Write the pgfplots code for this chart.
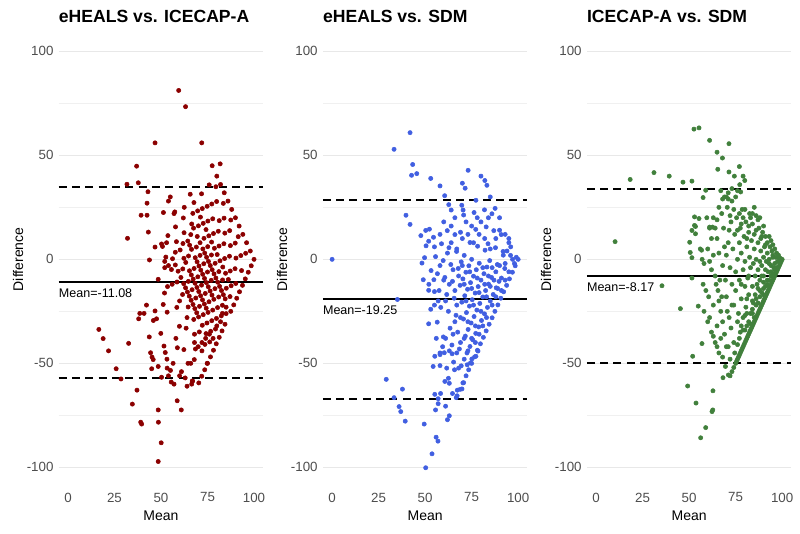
\documentclass[border=0pt]{standalone}
\usepackage{fontspec}
\setmainfont{Liberation Sans}
\usepackage{pgfplots}
\pgfplotsset{compat=1.18}
\definecolor{c1}{RGB}{139,0,0}
\definecolor{c2}{RGB}{65,95,225}
\definecolor{c3}{RGB}{65,128,60}
\definecolor{tickgray}{RGB}{77,77,77}
\definecolor{gridmaj}{RGB}{232,232,232}
\definecolor{gridmin}{RGB}{240,240,240}
\tikzset{mlab/.style={anchor=west, inner sep=0pt, yshift=-8.25pt, font=\fontsize{9.4}{11}\selectfont}}
\pgfplotsset{
 baplot/.style={
  scale only axis, width=153.5pt, height=343.2pt,
  anchor=south west,
  xmin=-5, xmax=105, ymin=-110, ymax=110,
  axis line style={draw=none},
  major tick style={draw=none}, minor tick style={draw=none},
  xtick={0,25,50,75,100},
  ytick={-100,-50,0,50,100},
  minor ytick={-75,-25,25,75},
  ymajorgrids, yminorgrids,
  major grid style={gridmaj, line width=0.8pt},
  minor grid style={gridmin, line width=0.45pt},
  /pgf/number format/assume math mode=true,
  ticklabel style={font=\fontsize{10}{12}\selectfont, text=tickgray},
  xticklabel style={anchor=center, yshift=-7pt},
  yticklabel style={anchor=east, inner sep=0pt, xshift=-3.7pt},
  title style={at={(0,1)}, anchor=base west, yshift=0pt, inner sep=0pt, font=\bfseries\fontsize{13.2}{15}\selectfont},
  xlabel={Mean}, ylabel={Difference},
  xlabel style={at={(axis description cs:0.5,0)}, anchor=center, yshift=-20.4pt, inner sep=0pt, font=\fontsize{10.5}{12}\selectfont},
  ylabel style={at={(axis description cs:-0.1987,0.5)}, anchor=center, inner sep=0pt, font=\fontsize{10.5}{12}\selectfont},
  clip=false,
 },
}
\begin{document}
\begin{tikzpicture}
\path[use as bounding box] (0,0) rectangle (600pt,400pt);
% ---------------- Panel 1 ----------------
\begin{axis}[baplot, at={(44pt,33.9pt)}, title={eHEALS vs. ICECAP-A}]
\addplot[color=c1, only marks, mark=*, mark size=1.6pt] coordinates {
(59.5,81.2)(63.2,73.4)(46.8,56)(71.9,56)(36.9,44.8)(37.8,36.8)(31.7,36.1)(81.8,45.9)(43,32.5)(42.5,27)(42.5,21.2)(39.3,21.2)(32,10.1)(43.2,13.1)(43.8,-0.3)
(16.6,-33.7)(18.9,-38.1)(21.8,-44)(25.9,-52.6)(28.5,-57.5)(32.6,-40.4)(37.1,-62.9)(34.6,-69.6)(39.1,-78.3)(39.6,-79.2)(48.5,-72.4)(48.6,-78.3)(50.1,-88.2)(48.5,-97.2)(58.7,-68)(60.9,-72.4)(74.8,-50)
(38.6,-26)(40.9,-26)(38,-28.6)(42.2,-22)(43.7,-37.3)(44.4,-44.9)(45.2,-47)(45.8,-48.2)(45,-52.6)(45.9,-29.4)(46.8,-24.8)(47.6,-28.6)(48.5,-51.5)(50.3,-56.7)
(46.8,5.9)(48.5,-9.6)(50.3,7.4)(50.8,6.2)(51.2,-21.7)(51.6,-41.7)(52.3,-44.8)(49.9,-35.6)(53.2,-48)(53.3,-52.3)(55.1,-53.4)
(57,-60)(55.5,-59)(64,-61)(66.5,-60)(67,-58.5)(63,-57)(61,-54)(55,30)(54,28)(57,22)(52,-1)(54,-3)(53,8)(58,-38)(60,-56)(56.5,-50)(54,-56)
(64.5,-50)(66,-50)(68,-40)(70,-42)(72,-40)(74,-38)(76,-36)(78,-38)(80,-32)(82,-30)(83,-26)(85,-23)
(77.5,45)(80,40)(82,36)(84,32)(86,28)(88,24)(90,20)(92,16)(94,12)(96,8)(98,4)(100,0)
(79.5,34.9)(83.5,26.9)(87.5,18.9)(91.5,10.9)(95.5,2.9)(98.5,-3.1)
(75.9,35.8)(79.9,27.8)(83.9,19.8)(86.9,13.8)(89.9,7.8)(92.9,1.8)(96.9,-6.2)
(77.3,26.6)(81.3,18.6)(84.3,12.6)(87.3,6.6)(90.3,0.6)(93.3,-5.4)(95.3,-9.4)
(71.8,31.5)(74.8,25.5)(77.8,19.5)(80.8,13.5)(83.8,7.5)(86.8,1.5)(89.8,-4.5)(93.8,-12.5)
(72.2,24.4)(75.2,18.4)(78.2,12.4)(81.2,6.4)(84.2,0.4)(87.2,-5.6)(90.2,-11.6)(92.2,-15.6)
(65.7,31.3)(69.7,23.3)(72.7,17.3)(75.7,11.3)(78.7,5.3)(81.7,-0.7)(84.7,-6.7)(87.7,-12.7)(90.7,-18.7)
(67.1,22.1)(70.1,16.1)(73.1,10.1)(75.1,6.1)(77.1,2.1)(79.1,-1.9)(81.1,-5.9)(83.1,-9.9)(85.1,-13.9)(87.1,-17.9)(89.1,-21.9)
(62.5,25)(66.5,17)(69.5,11)(72.5,5)(74.5,1)(76.5,-3)(78.5,-7)(80.5,-11)(82.5,-15)(84.5,-19)(87.5,-25)
(62,19.9)(66,11.9)(69,5.9)(71,1.9)(73,-2.1)(75,-6.1)(77,-10.1)(79,-14.1)(81,-18.1)(83,-22.1)(85,-26.1)
(57.4,22.8)(62.4,12.8)(65.4,6.8)(68.4,0.8)(70.4,-3.2)(72.4,-7.2)(74.4,-11.2)(76.4,-15.2)(78.4,-19.2)(80.4,-23.2)(82.4,-27.2)(84.4,-31.2)
(57.8,15.6)(61.8,7.6)(64.8,1.6)(67.8,-4.4)(69.8,-8.4)(71.8,-12.4)(73.8,-16.4)(75.8,-20.4)(77.8,-24.4)(79.8,-28.4)(82.8,-34.4)
(51.3,22.5)(58.3,8.5)(62.3,0.5)(65.3,-5.5)(67.3,-9.5)(69.3,-13.5)(71.3,-17.5)(73.3,-21.5)(75.3,-25.5)(77.3,-29.5)(79.3,-33.5)(81.3,-37.5)
(53.7,11.4)(57.7,3.4)(61.7,-4.6)(64.7,-10.6)(66.7,-14.6)(68.7,-18.6)(70.7,-22.6)(72.7,-26.6)(74.7,-30.6)(76.7,-34.6)(79.7,-40.6)
(56.2,0.3)(59.2,-5.7)(62.2,-11.7)(64.2,-15.7)(66.2,-19.7)(68.2,-23.7)(70.2,-27.7)(72.2,-31.7)(74.2,-35.7)(76.2,-39.7)(78.2,-43.7)
(52.6,1.1)(55.6,-4.9)(58.6,-10.9)(61.6,-16.9)(64.6,-22.9)(67.6,-28.9)(70.6,-34.9)(73.6,-40.9)(76.6,-46.9)
(52,-4)(56,-12)(60,-20)(64,-28)(68,-36)(72,-44)(75,-50)
(53.5,-13.1)(58.5,-23.1)(63.5,-33.1)(68.5,-43.1)(73.5,-53.1)
(51.9,-16.2)(59.9,-32.2)(67.9,-48.2)(71.9,-56.2)
(53.3,-25.4)(62.3,-43.4)(70.3,-59.4)(58.8,-42.5)(66.8,-58.5)
(67.5,15)(71,8)(73.5,3)(75.5,-1)(77.5,-5)(79.5,-9)(81.5,-13)(83.5,-17)
(64.4,8.8)(66.4,4.8)(69.4,-1.2)(71.4,-5.2)(73.4,-9.2)(75.4,-13.2)(77.4,-17.2)
(60.3,4.5)(63.3,-1.5)(66.3,-7.5)(68.3,-11.5)(70.3,-15.5)(72.3,-19.5)(74.3,-23.5)
(67.7,27.3)(71.2,20.3)(74.2,14.3)(77.2,8.3)(80.2,2.3)(83.2,-3.7)(86.2,-9.7)
(57.7,-2.7)(60.7,-8.7)(63.2,-13.7)(65.2,-17.7)(67.2,-21.7)(69.2,-25.7)
};
\addplot[black, line width=1.4pt] coordinates {(-5,-11.08) (105,-11.08)};
\addplot[black, line width=1.4pt, dash pattern=on 6pt off 4pt] coordinates {(-5,34.84) (105,34.84)};
\addplot[black, line width=1.4pt, dash pattern=on 6pt off 4pt] coordinates {(-5,-57.0) (105,-57.0)};
\node[mlab] at (axis cs:-5,-11.08) {Mean=-11.08};
\end{axis}
% ---------------- Panel 2 ----------------
\begin{axis}[baplot, at={(242.1pt,33.9pt)}, title={eHEALS vs. SDM}]
\addplot[color=c2, only marks, mark=*, mark size=1.6pt] coordinates {
(0,0)(41.9,60.9)(33.3,52.9)(43.3,45.6)(42.7,40.4)(45.5,41.2)(53,38.9)(58,35.3)(73.1,42.8)(70,36.6)(71.5,34.2)(82.1,37.9)(83.2,35.6)(77.3,28.4)(87.6,24.5)
(60.5,30.6)(62.7,26.3)(64,23.7)(69.7,26)(70.4,23.7)(39.7,21.2)(41.9,16.8)(35.1,-19.3)(51.9,-31)(56.5,-30.2)(59.8,-37.3)
(29.1,-57.7)(33.3,-66.5)(36,-70.8)(36.9,-73.2)(37.8,-62.4)(39.3,-77.8)(49.5,-79.2)(55.9,-85.5)(56.9,-87.4)(53.7,-93.5)(50.3,-100.2)
(54.3,-51.5)(58,-51.1)(55.2,-46.6)(58,-45.8)(60.3,-44.9)(59.4,-42)(61.6,-52.3)(64.5,-45.4)(62.5,-57.2)(63,-59.6)
(55.2,-64.9)(57,-67)(58.3,-64.5)(55.6,-72.4)(57,-69.4)(61,-70.6)(62,-77.1)(63,-75.2)(64.7,-64.5)(66.7,-66.5)(67.3,-62.9)
(65.8,-53.1)(68,-52.3)(69.8,-62.3)(70.7,-59.3)(72,-56)(72.6,-50.7)(74.4,-49.8)(75.1,-47.9)(77.3,-46.6)(78.4,-44.1)
(47.7,11.4)(50.3,13.9)(52.3,14.5)(54.5,10.6)(51.9,8.7)(48.3,-1.8)(49.7,0.8)(49,-9.8)(50.5,6.5)(53.2,-5.4)(54.7,-9.8)(55,-15.5)(51.9,-14.9)
(80,40)(85,30)(90,20)(95,10)(100,0)
(85.9,21.9)(90.9,11.9)(95.9,1.9)(98.4,-3.1)
(81.9,23.8)(86.9,13.8)(91.9,3.8)(96.9,-6.2)
(82.8,15.6)(87.8,5.6)(92.8,-4.4)(95.3,-9.4)
(76.3,22.5)(83.8,7.5)(88.8,-2.5)(93.8,-12.5)
(77.2,14.4)(82.2,4.4)(84.7,-0.6)(89.7,-10.6)(92.2,-15.6)
(70.7,21.3)(78.2,6.3)(83.2,-3.7)(85.7,-8.7)(88.2,-13.7)(90.7,-18.7)
(74.1,8.1)(79.1,-1.9)(81.6,-6.9)(84.1,-11.9)(86.6,-16.9)(89.1,-21.9)
(70,10)(75,0)(77.5,-5)(80,-10)(82.5,-15)(85,-20)(87.5,-25)
(66,11.9)(71,1.9)(73.5,-3.1)(76,-8.1)(78.5,-13.1)(81,-18.1)(83.5,-23.1)(86,-28.1)
(61.9,13.8)(66.9,3.8)(69.4,-1.2)(71.9,-6.2)(74.4,-11.2)(76.9,-16.2)(79.4,-21.2)(81.9,-26.2)(84.4,-31.2)
(62.8,5.6)(67.8,-4.4)(70.3,-9.4)(72.8,-14.4)(75.3,-19.4)(77.8,-24.4)(80.3,-29.4)(82.8,-34.4)
(58.8,7.5)(63.8,-2.5)(68.8,-12.5)(71.3,-17.5)(73.8,-22.5)(76.3,-27.5)(78.8,-32.5)(81.3,-37.5)
(59.7,-0.6)(64.7,-10.6)(69.7,-20.6)(72.2,-25.6)(74.7,-30.6)(77.2,-35.6)(79.7,-40.6)
(55.6,1.3)(60.6,-8.7)(65.6,-18.7)(70.6,-28.7)(73.1,-33.7)(75.6,-38.7)(78.1,-43.7)
(56.6,-6.9)(61.6,-16.9)(66.6,-26.9)(71.6,-36.9)(74.1,-41.9)(76.6,-46.9)
(57.5,-15)(62.5,-25)(67.5,-35)(72.5,-45)(75,-50)
(58.4,-23.1)(63.4,-33.1)(68.4,-43.1)(73.4,-53.1)
(64.4,-41.2)(69.4,-51.2)(65.3,-49.4)(70.3,-59.4)(68.8,-62.5)(67.2,-65.6)(60.6,-58.7)
(60,-10)(61,-20)(63,-12)(65,-5)(66,-15)(67,-22)(68,-8)(69,-28)(70,-3)(71,-12)(72,-20)(73,-30)(74,-6)(75,-14)(76,-22)(77,-32)
(78,-9)(79,-16)(80,-25)(81,-4)(82,-12)(83,-18)(84,-8)(85,-13)(86,-4)(87,-10)(88,-6)(89,-14)(90,-3)(91,-9)(92,2)(93,-2)(94,4)(96,6)(97,0)(99,1)
(62,3)(64,8)(66,-30)(67,5)(69,13)(71,-38)(73,12)(76,8)(79,12)(82,10)(85,5)(88,10)(90,14)(93,12)(95,8)(98,-2)
(58,-3)(57,-20)(55,-22)(53,-24)(56,-38)(58,-45)(61,-38)(63,-44)(65,-36)(67,-45)(69,-40)(71,-48)(73,-44)(75,-38)(77,-40)(79,-36)
(81,-32)(83,-28)(86,-22)(88,-18)(91,-15)(93,-10)(95,-6)(58,12)(60,18)(55,6)(52,-12)
(72,18)(75,16)(78,20)(80,18)(66,20)(64,16)(84,20)
};
\addplot[black, line width=1.4pt] coordinates {(-5,-19.25) (105,-19.25)};
\addplot[black, line width=1.4pt, dash pattern=on 6pt off 4pt] coordinates {(-5,28.65) (105,28.65)};
\addplot[black, line width=1.4pt, dash pattern=on 6pt off 4pt] coordinates {(-5,-67.15) (105,-67.15)};
\node[mlab] at (axis cs:-5,-19.25) {Mean=-19.25};
\end{axis}
% ---------------- Panel 3 ----------------
\begin{axis}[baplot, at={(440.1pt,33.9pt)}, title={ICECAP-A vs. SDM}]
\addplot[color=c3, only marks, mark=*, mark size=1.6pt] coordinates {
(10.2,8.5)(18.3,38.4)(31.1,41.7)(39.3,40)(46.7,37.1)(51.5,37.6)(52.6,62.6)(55.3,63.2)(61,57.2)(71.4,55.6)(65,51.5)(67.9,48.7)(65.4,43.3)(71.4,42)(77,44.6)
(79,40)(79.9,37.9)(74.3,40)(77.2,35.9)(77.7,32.4)(35.4,-12.7)(45.3,-23.7)(51.9,-46.6)(49.2,-60.9)(53.7,-69.1)(56.9,-40.5)(54.9,-22.5)
(58.9,-80.9)(56.2,-85.8)(62.8,-63.2)(62.7,-72.4)(62.3,-73.2)(68.2,-56.9)(69.5,-51.5)(71.1,-55.6)
(50.3,8.2)(51.5,13.9)(52.9,16.3)(50.6,3.3)(51.5,0.8)(51.5,-9)(52.9,20.4)(53.4,15.8)(53.4,12.3)(57.5,29.7)(58.9,33.2)(56.7,4.4)(61,15.5)(62.6,15.5)(55.3,19.6)
(72,-56)(73,-54)(74,-52)(75,-50)(75.5,-49)(76,-48)(76.5,-47)(77,-46)(77.5,-45)(78,-44)(78.5,-43)(79,-42)(79.5,-41)(80,-40)(80.5,-39)(81,-38)(81.5,-37)(82,-36)
(82.5,-35)(83,-34)(83.5,-33)(84,-32)(84.5,-31)(85,-30)(85.5,-29)(86,-28)(86.5,-27)(87,-26)(87.5,-25)(88,-24)(88.5,-23)(89,-22)(89.5,-21)(90,-20)(90.5,-19)
(91,-18)(91.5,-17)(92,-16)(92.5,-15)(93,-14)(93.5,-13)(94,-12)(94.5,-11)(95,-10)(95.5,-9)(96,-8)(96.5,-7)(97,-6)(97.5,-5)(98,-4)(98.5,-3)(99,-2)(99.5,-1)(100,0)
(80,-34)(82,-30)(84,-26)(86,-22)(88,-18)(90,-14)(92,-10)(94,-6)(96,-2)(98,2)
(78,-32)(81,-26)(84,-20)(87,-14)(90,-8)(93,-2)(95,2)
(62,-5)(63,2)(64,-8)(64.5,-12)(65,10)(65.5,-15)(66,-20)(66,3)(67,-25)(67.5,22)(68,-3)(68,-30)(68.5,15)(69,-36)(69.5,-10)(70,2)(70,-18)(70.5,25)
(71,-42)(71,8)(71.5,-28)(72,-4)(72.5,-33)(72.5,18)(73,-12)(73,28)(73.5,5)(74,-22)(74,-40)(74.5,12)(75,-6)(75,-15)(75.5,20)(76,-30)(76,0)(76.5,-26)
(77,8)(77,-10)(77.5,15)(77.5,-35)(78,-19)(78,3)(78.5,24)(79,-5)(79,-28)(79.5,11)(80,-13)(80,-1)(80.5,18)(80.5,-23)(81,6)(81,-32)(81.5,-9)(82,13)
(82,-17)(82.5,1)(82.5,22)(83,-4)(83,-26)(83.5,9)(84,-13)(84,17)(84.5,-2)(84.5,-21)(85,5)(85,12)(85.5,-8)(85.5,-17)(86,21)(86,0)(86.5,-12)(87,8)(87,-5)
(87.5,15)(88,-1)(88,-15)(88.5,4)(88.5,10)(89,-8)(89,-3)(89.5,13)(90,1)(90,-11)(90.5,6)(91,-5)(91,11)(91.5,-1)(92,3)(92,8)(92.5,-6)(93,0)(93.5,6)
(94,-3)(94.5,4)(95,1)(95.5,-4)(96,5)(96.5,1)(97,3)(97.5,-1)(98,1)(99,0.5)
(58,-2)(59,-15)(60,5)(60.5,-18)(61,-28)(59.5,20)(57,0)(58,-25)(60,-30)(62,-35)(63,-37)(64,-40)(65,-42)(66,-45)(67,-38)(68,-47)(70,-42)(56,5)
(57.5,-12)(61,-1)(63,-22)(65,-32)(66.5,-10)(67.5,-18)(69,6)(70.5,-25)(71.5,14)(72,-48)(73,-22)(74.5,-45)(76,-41)(77,-38)(78,-12)(79,-34)(80,-27)
(81,-19)(82,-8)(83,-31)(84,-24)(85,-28)(86,-19)(87,-21)(88,-10)(89,-16)(90,-17)(91,-13)(92,-12)(93,-10)(94,-8)(95,-7)(96,-5)(97,-4)
(70,30)(71,32)(72,21)(74,24)(75,30)(76,14)(77,22)(78,17)(79,20)(80,24)(81,10)(82,16)(83,20)(84,22)(85,25)(86,14)(87,19)(88,20)(89,11)(90,16)
(91,7)(93,11)(94,9)(95,7)(76,33)(73,34)(71,29)(67,33)(68,29)(69,30)(66,25)(65,19)(63,20)(64,15)(62,10)(61,15)
};
\addplot[black, line width=1.4pt] coordinates {(-5,-8.17) (105,-8.17)};
\addplot[black, line width=1.4pt, dash pattern=on 6pt off 4pt] coordinates {(-5,33.7) (105,33.7)};
\addplot[black, line width=1.4pt, dash pattern=on 6pt off 4pt] coordinates {(-5,-50.0) (105,-50.0)};
\node[mlab] at (axis cs:-5,-8.17) {Mean=-8.17};
\end{axis}
\end{tikzpicture}
\end{document}
